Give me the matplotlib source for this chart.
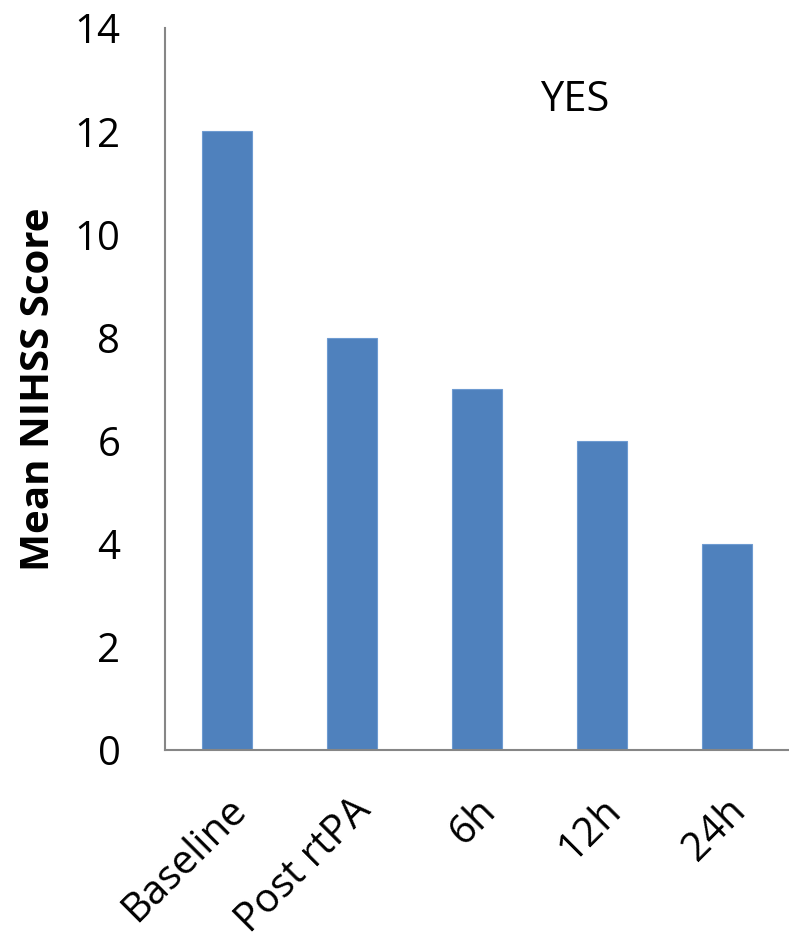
import matplotlib.pyplot as plt
import numpy as np

# Mean NIHSS score over time
categories = ["Baseline", "Post rtPA", "6h", "12h", "24h"]
scores = [12, 8, 7, 6, 4]
yticks = [0, 2, 4, 6, 8, 10, 12, 14]

plt.rcParams["font.family"] = ["Open Sans", "DejaVu Sans"]

fig = plt.figure(figsize=(7.89, 9.41), dpi=100)
ax = fig.add_axes([0.209, 0.203, 0.791, 0.767])

x = np.arange(len(categories))
ax.bar(x, scores, width=0.4, color="#4F81BD", edgecolor="#6E9BD1", linewidth=0.8)

ax.set_xlim(-0.5, len(categories) - 0.5)
ax.set_ylim(0, 14)
ax.set_yticks(yticks)
ax.set_yticklabels([str(t) for t in yticks], fontsize=29)
ax.tick_params(axis="y", length=0, pad=32)
ax.tick_params(axis="x", length=0)
ax.set_xticks(x)
ax.set_xticklabels([])

for xi, lab in zip(x, categories):
    ax.text(xi - 0.01, -0.78, lab, rotation=45, ha="right", va="top",
            rotation_mode="anchor", fontsize=29, transform=ax.transData)

for s in ["top", "right"]:
    ax.spines[s].set_visible(False)
for s in ["left", "bottom"]:
    ax.spines[s].set_color("#868686")
    ax.spines[s].set_linewidth(1.5)

ax.text(2.78, 12.6, "YES", fontsize=30, ha="center", va="center")
ax.set_ylabel("Mean NIHSS Score", fontsize=29, fontweight="bold", labelpad=12)

plt.savefig("out.png", dpi=100)
